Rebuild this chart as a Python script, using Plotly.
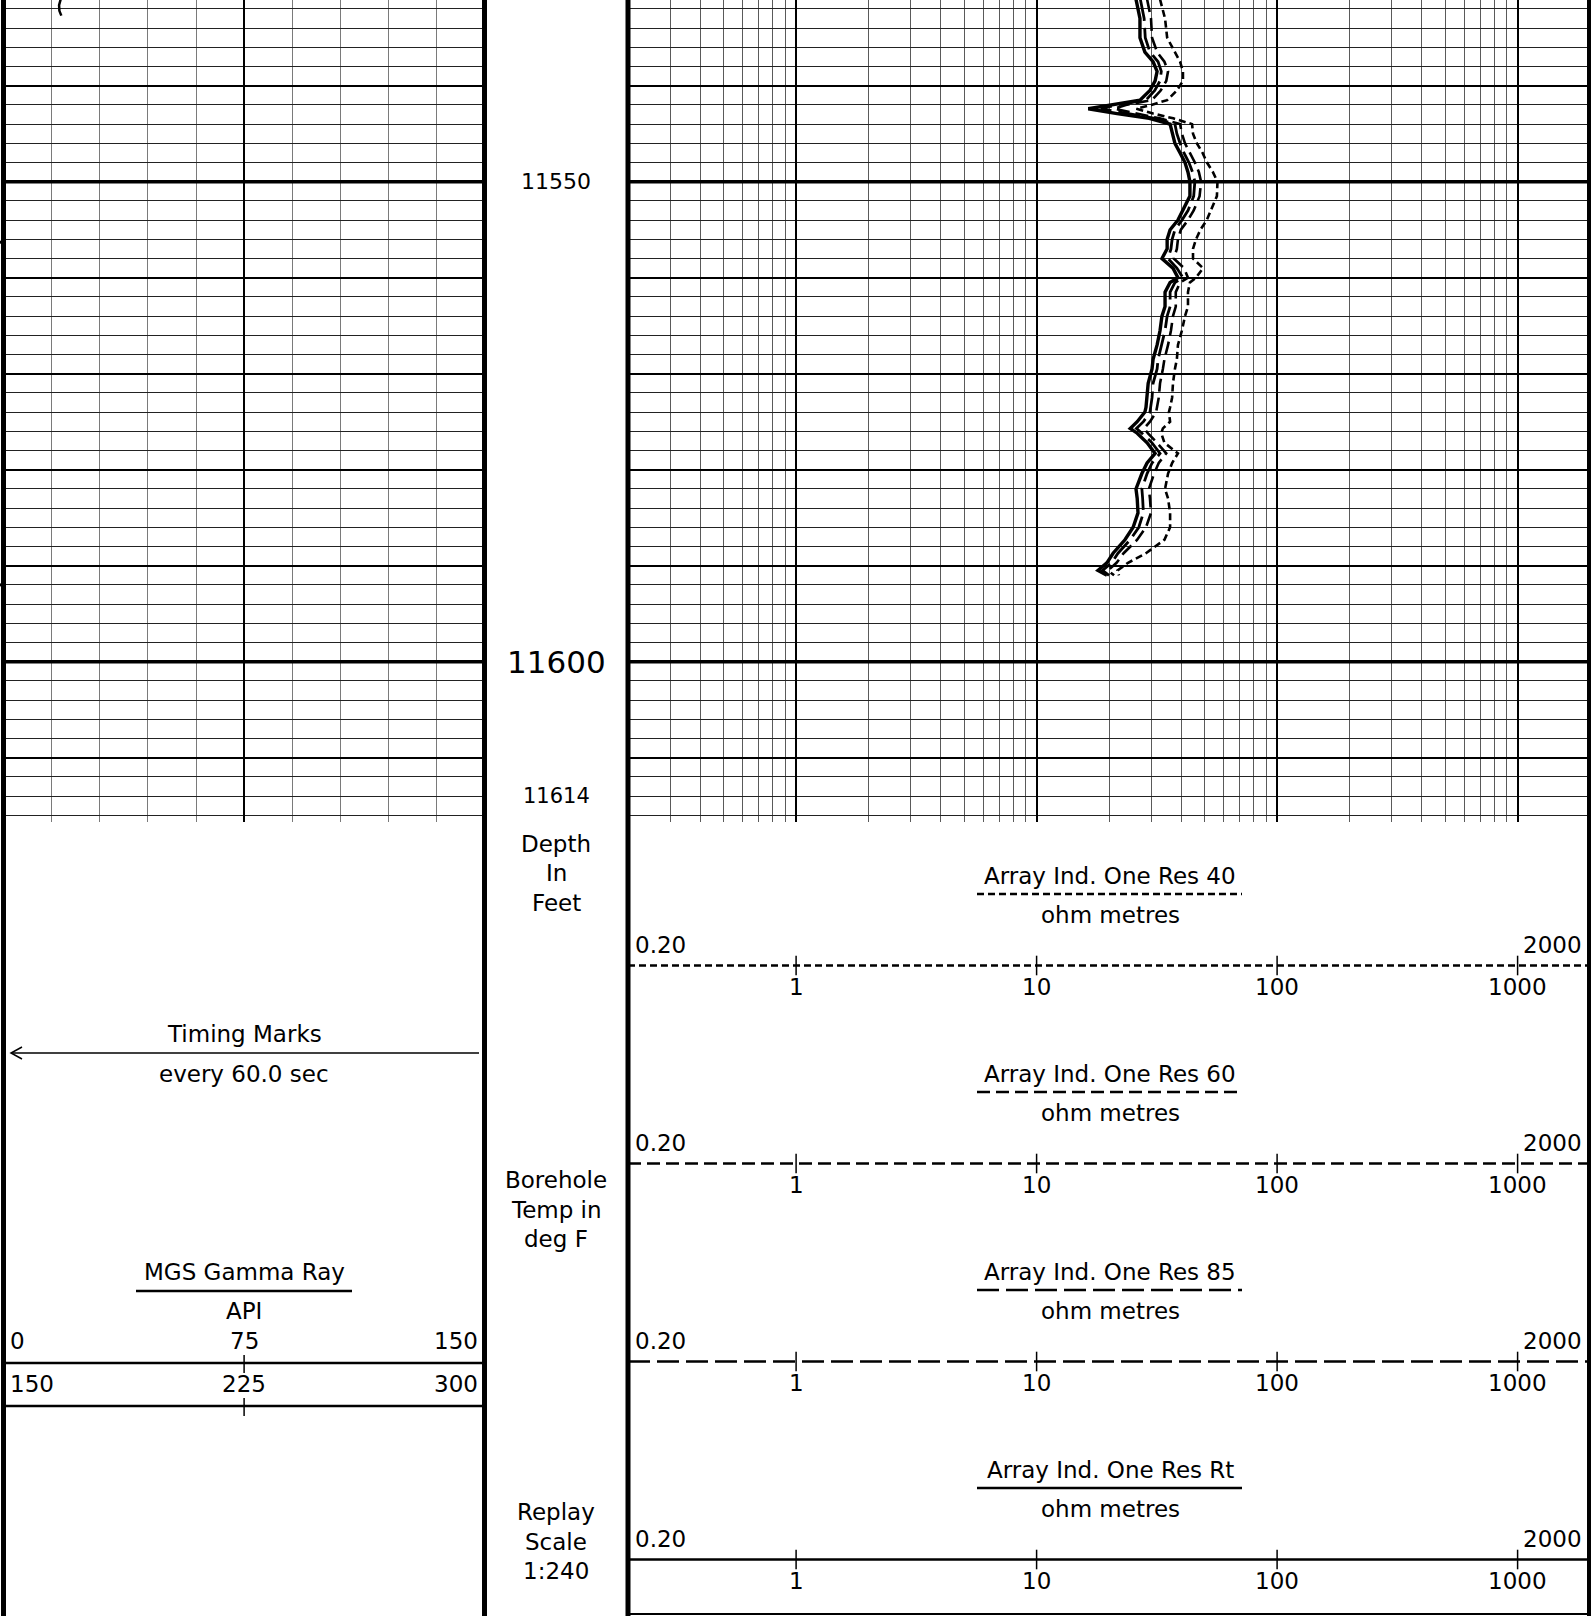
import math

import plotly.graph_objects as go

W, H = 1591, 1616
FONT = "DejaVu Sans, Liberation Sans, Arial, sans-serif"

# ---- values ----
DEPTH = [11531.0, 11533.0, 11535.0, 11536.5, 11537.5, 11538.5, 11539.5, 11540.5, 11541.5, 11542.0,
         11542.4, 11542.9, 11543.4, 11544.0, 11545.0, 11546.0, 11547.0, 11548.0, 11549.0, 11550.0,
         11551.5, 11553.0, 11554.0, 11555.0, 11556.0, 11557.0, 11558.0, 11559.0, 11560.0, 11560.5,
         11561.5, 11563.0, 11564.0, 11565.5, 11567.0, 11568.5, 11569.5, 11571.0, 11572.5, 11573.5,
         11574.0, 11575.0, 11575.7, 11576.2, 11577.2, 11578.3, 11579.3, 11580.4, 11582.0, 11583.0,
         11584.5, 11586.0, 11587.3, 11588.7, 11589.7, 11590.5, 11591.0]

RES_RT = [25.9, 26.9, 26.9, 28.2, 30.5, 31.7, 31.1, 29.6, 26.9, 20.0,
          16.4, 21.6, 29.4, 35.9, 36.6, 37.6, 39.5, 41.4, 42.6, 43.4,
          43.4, 40.6, 38.7, 35.9, 34.9, 34.9, 33.2, 36.9, 38.7, 35.9,
          34.2, 34.2, 33.2, 32.6, 31.7, 30.5, 30.2, 29.1, 28.8, 28.5,
          28.2, 26.2, 24.5, 26.2, 28.8, 31.1, 28.8, 27.4, 25.9, 26.2,
          26.4, 25.2, 23.3, 20.8, 19.6, 18.0, 19.6]

RES_85 = [27.0, 28.0, 28.3, 29.6, 32.0, 33.0, 32.6, 31.0, 28.5, 21.5,
          18.5, 23.5, 31.0, 37.6, 38.3, 39.5, 41.0, 43.0, 44.5, 45.5,
          45.0, 42.6, 40.2, 37.6, 36.6, 36.2, 35.2, 38.3, 40.6, 37.6,
          35.9, 35.9, 34.9, 34.2, 33.2, 32.0, 31.7, 30.5, 30.2, 29.9,
          29.6, 27.8, 26.0, 27.4, 30.2, 32.6, 30.2, 28.8, 27.4, 27.6,
          27.8, 26.6, 24.5, 21.8, 20.5, 18.8, 20.0]

RES_60 = [28.8, 29.9, 30.2, 31.7, 34.0, 35.2, 34.6, 32.8, 30.2, 23.5,
          21.0, 26.0, 32.5, 39.5, 40.2, 41.4, 43.4, 45.5, 47.3, 48.3,
          47.6, 45.0, 42.6, 39.8, 38.7, 38.3, 37.2, 41.0, 42.6, 39.5,
          37.9, 37.9, 36.9, 36.2, 35.2, 34.0, 33.5, 32.6, 32.2, 31.7,
          31.4, 29.6, 28.0, 29.0, 31.7, 34.6, 32.2, 30.8, 29.3, 29.6,
          29.9, 28.5, 26.2, 23.0, 21.5, 19.8, 21.0]

RES_40 = [32.6, 34.2, 34.9, 37.6, 39.5, 40.6, 40.6, 38.3, 34.9, 30.0,
          26.0, 30.5, 37.0, 44.3, 44.7, 46.4, 49.0, 51.1, 54.1, 56.5,
          56.2, 53.0, 51.0, 48.0, 46.0, 44.7, 44.7, 49.2, 46.0, 43.4,
          42.6, 42.6, 41.4, 40.2, 38.7, 38.3, 37.6, 36.9, 36.6, 35.9,
          35.5, 35.9, 33.5, 33.0, 34.0, 38.7, 36.6, 35.2, 34.2, 35.2,
          35.9, 35.9, 34.0, 28.5, 24.0, 21.7, 22.0]

GR_DEPTH = [11531.0, 11531.6, 11532.2, 11532.7]
GR_API = [17.8, 17.3, 17.4, 18.0]

TIMING_MARKS = [11556.3, 11592.0]

DEPTH_TOP = 11531.07
DEPTH_BOTTOM = 11616.7
DEPTH_LABELS = [11550, 11600]
LAST_DEPTH = 11614

RES_MIN, RES_MAX = 0.2, 2000
RES_TICKS = [1, 10, 100, 1000]
RES_MINOR = [m * 10 ** e for e in (-1, 0, 1, 2, 3) for m in range(2, 10)
             if RES_MIN < m * 10 ** e < RES_MAX]
GR_MAX = 150
GR_SCALE = [0, 75, 150]
GR_BACKUP = [150, 225, 300]
GR_MINOR = [v for v in range(15, 150, 15) if v != 75]

CURVES = [
    ("Array Ind. One Res 40", RES_40, "7px,4px", 2.6),
    ("Array Ind. One Res 60", RES_60, "13px,6px", 2.6),
    ("Array Ind. One Res 85", RES_85, "22px,7px", 2.8),
    ("Array Ind. One Res Rt", RES_RT, "solid", 3.4),
]

# ---- page geometry (pixels) ----
LOG_BOTTOM = 822
GR_X0, GR_X1 = 3.6, 484.6
RES_X0, RES_X1 = 628, 1590
DEPTH_XC = 556
TXT = 23


def px(x):
    return x / W


def py(y):
    return 1 - y / H


fig = go.Figure()

# resistivity curves
for name, vals, dash, width in CURVES:
    fig.add_trace(go.Scatter(x=vals, y=DEPTH, xaxis="x2", yaxis="y2", mode="lines", name=name,
                             line=dict(color="black", width=width, dash=dash)))

# gamma ray
fig.add_trace(go.Scatter(x=GR_API, y=GR_DEPTH, xaxis="x", yaxis="y", mode="lines",
                         line=dict(color="black", width=2.5), name="MGS Gamma Ray"))

shapes = []
annotations = []


def hline(x0, x1, y, width=2.5, dash="solid"):
    shapes.append(dict(type="line", xref="paper", yref="paper", x0=px(x0), x1=px(x1),
                       y0=py(y), y1=py(y), line=dict(color="black", width=width, dash=dash)))


def text(x, y, s, size=TXT, anchor="center", xref="paper", yref="paper", xshift=0):
    annotations.append(dict(x=x, y=y, xref=xref, yref=yref, text=s, showarrow=False,
                            xanchor=anchor, yanchor="middle", xshift=xshift,
                            font=dict(family=FONT, size=size, color="black")))


# heavy depth lines every 50 ft
for d in DEPTH_LABELS:
    for xr, yr in (("x domain", "y"), ("x2 domain", "y2")):
        shapes.append(dict(type="line", xref=xr, yref=yr, x0=0, x1=1, y0=d, y1=d,
                           line=dict(color="black", width=3.5)))

# track borders
for x, w in ((3.5, 5), (484.5, 5), (628, 5), (1589, 4)):
    shapes.append(dict(type="line", xref="paper", yref="paper", x0=px(x), x1=px(x), y0=0, y1=1,
                       line=dict(color="black", width=w)))

# timing marks on the left edge
for d in TIMING_MARKS:
    shapes.append(dict(type="line", xref="paper", yref="y", x0=0, x1=px(4), y0=d, y1=d,
                       line=dict(color="black", width=3)))

# depth numbers
for d in DEPTH_LABELS:
    text(px(DEPTH_XC), d, str(d), size=31 if d % 100 == 0 else 22, yref="y")
text(px(DEPTH_XC), LAST_DEPTH, str(LAST_DEPTH), size=21, yref="y")

# depth track captions
for lines, y0 in ((["Depth", "In", "Feet"], 844), (["Borehole", "Temp in", "deg F"], 1180),
                  (["Replay", "Scale", "1:240"], 1512)):
    for i, s in enumerate(lines):
        text(px(DEPTH_XC), py(y0 + 29.5 * i), s)

# timing marks legend
GR_XC = (GR_X0 + GR_X1) / 2
text(px(GR_XC), py(1034), "Timing Marks")
text(px(GR_XC), py(1074), "every 60.0 sec")
hline(12, 479, 1053, width=1.5)
shapes.append(dict(type="path", xref="paper", yref="paper",
                   path=f"M {px(22)},{py(1047)} L {px(11)},{py(1053)} L {px(22)},{py(1059)}",
                   line=dict(color="black", width=1.5)))

# gamma ray legend
text(px(GR_XC), py(1272), "MGS Gamma Ray")
hline(136, 352, 1291)
text(px(GR_XC), py(1311), "API")
for vals, y_lab, y_line in ((GR_SCALE, 1341, 1363), (GR_BACKUP, 1384, 1406)):
    for v, anc, sh in zip(vals, ("left", "center", "right"), (4, 0, -5)):
        pos = (v - vals[0]) / (vals[-1] - vals[0]) * GR_MAX
        text(pos, py(y_lab), str(v), anchor=anc, xref="x4", xshift=sh)
    hline(GR_X0, GR_X1, y_line, width=2.5)
    fig.add_trace(go.Scatter(x=[GR_SCALE[1]], y=[y_line + 1], xaxis="x4", yaxis="y3", mode="markers",
                             marker=dict(symbol="line-ns", size=13, line=dict(color="black", width=1.5)),
                             hoverinfo="skip"))

# resistivity legends
RES_XC = 1110
for k, (name, vals, dash, width) in enumerate(CURVES):
    dy = 198 * k
    text(px(RES_XC), py(876 + dy), name)
    hline(977, 1242, 894 + dy, width=2.5, dash=dash)
    text(px(RES_XC), py(915 + dy), "ohm metres")
    text(math.log10(RES_MIN), py(945 + dy), f"{RES_MIN:.2f}", anchor="left", xref="x3", xshift=5)
    text(math.log10(RES_MAX), py(945 + dy), f"{RES_MAX}", anchor="right", xref="x3", xshift=-6)
    hline(RES_X0, RES_X1 + 1, 965.5 + dy, width=2.5, dash=dash)
    fig.add_trace(go.Scatter(x=RES_TICKS, y=[965.5 + dy] * len(RES_TICKS), xaxis="x3", yaxis="y3",
                             mode="markers",
                             marker=dict(symbol="line-ns", size=14, line=dict(color="black", width=1.5)),
                             hoverinfo="skip"))
    for v in RES_TICKS:
        text(math.log10(v), py(987 + dy), str(v), xref="x3")

# bottom edge
hline(RES_X0, W, 1614, width=2)

grid_dom = [1 - LOG_BOTTOM / H, 1]
gr_dom = [px(GR_X0), px(GR_X1)]
res_dom = [px(RES_X0), px(RES_X1)]
res_range = [math.log10(RES_MIN), math.log10(RES_MAX)]
depth_axis = dict(domain=grid_dom, range=[DEPTH_BOTTOM, DEPTH_TOP], showticklabels=False, ticks="",
                  zeroline=False, showline=False, tickmode="linear", tick0=11530, dtick=10,
                  showgrid=True, gridcolor="black", gridwidth=2.2,
                  minor=dict(tickmode="linear", tick0=11530, dtick=2, showgrid=True,
                             gridcolor="#222222", gridwidth=1.3))

fig.update_layout(
    width=W, height=H,
    margin=dict(l=0, r=0, t=0, b=0, pad=0, autoexpand=False),
    paper_bgcolor="white", plot_bgcolor="white",
    showlegend=False,
    xaxis=dict(domain=gr_dom, range=[0, GR_MAX], anchor="y", showticklabels=False, ticks="",
               zeroline=False, tickmode="array", tickvals=[GR_SCALE[1]], showgrid=True,
               gridcolor="black", gridwidth=2,
               minor=dict(tickmode="array", tickvals=GR_MINOR, showgrid=True,
                          gridcolor="#7a7a7a", gridwidth=1.3)),
    yaxis=dict(anchor="x", **depth_axis),
    xaxis2=dict(type="log", domain=res_dom, range=res_range, anchor="y2", showticklabels=False,
                ticks="", zeroline=False, tickmode="array", tickvals=RES_TICKS, showgrid=True,
                gridcolor="black", gridwidth=2.2,
                minor=dict(tickmode="array", tickvals=RES_MINOR, showgrid=True,
                           gridcolor="#5a5a5a", gridwidth=1.3)),
    yaxis2=dict(anchor="x2", matches="y", **depth_axis),
    xaxis3=dict(type="log", domain=res_dom, range=res_range, anchor="y3", visible=False),
    yaxis3=dict(domain=[0, 1 - LOG_BOTTOM / H], range=[H, LOG_BOTTOM], anchor="x3", visible=False),
    xaxis4=dict(domain=gr_dom, range=[0, GR_MAX], anchor="y3", visible=False),
    shapes=shapes,
    annotations=annotations,
    font=dict(family=FONT, color="black"),
)

fig.write_html("out.html", config={"displayModeBar": False},
               post_script="document.body.style.margin='0';document.body.style.overflow='hidden';")
